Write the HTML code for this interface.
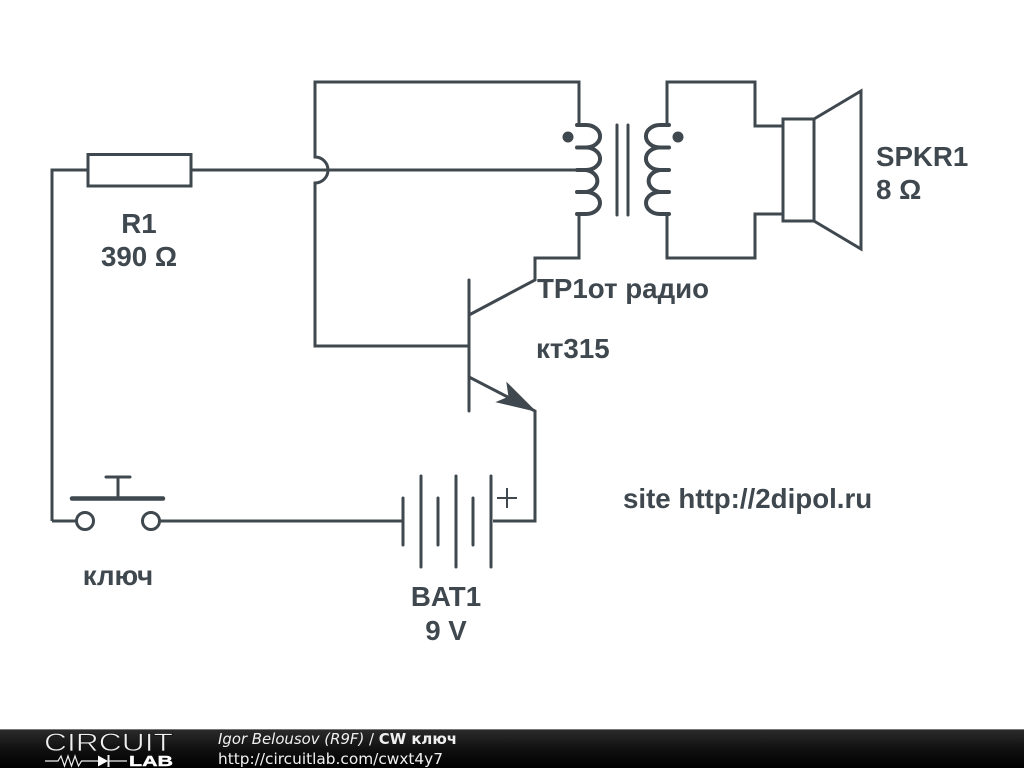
<!DOCTYPE html>
<html>
<head>
<meta charset="utf-8">
<style>
html,body{margin:0;padding:0;background:#fff;width:1024px;height:768px;overflow:hidden}
svg{display:block;filter:blur(0.35px)}
</style>
</head>
<body>
<svg width="1024" height="768" viewBox="0 0 1024 768" xmlns="http://www.w3.org/2000/svg">
<defs>
<linearGradient id="bar" x1="0" y1="0" x2="0" y2="1">
<stop offset="0" stop-color="#2c2c2c"/><stop offset="0.5" stop-color="#111"/><stop offset="1" stop-color="#000"/>
</linearGradient>
</defs>
<rect width="1024" height="768" fill="#fff"/>
<g fill="none" stroke="#3f484e" stroke-width="3" stroke-linejoin="miter">
<!-- primary loop -->
<path d="M579 125V82H315V157A13 13 0 0 1 315 183V346H469"/>
<path d="M52 521V170H88M191 170H579"/>
<rect x="88" y="154.500" width="103" height="31.500"/>
<!-- collector/emitter -->
<path d="M469 315L535 280V258H579V214"/>
<path d="M469 377L535 411V521H493"/>
<path d="M469 280V411" stroke-linecap="round"/>
<!-- coils -->
<g stroke-width="4" stroke-linecap="round">
<path d="M577 125H586A14 11.200 0 0 1 586 147.500H577M586 147.500A14 11.200 0 0 1 586 170H577M586 170A14 11.200 0 0 1 586 192H577M586 192A14 11 0 0 1 586 214H577"/>
<path d="M669 125H660A14 11.200 0 0 0 660 147.500H669M660 147.500A14 11.200 0 0 0 660 170H669M660 170A14 11.200 0 0 0 660 192H669M660 192A14 11 0 0 0 660 214H669"/>
</g>
<path d="M617 125V215M628 125V215" stroke-linecap="round"/>
<!-- secondary -->
<path d="M667 125V82H755V126H783M667 214V258H755V214H783"/>
<!-- speaker -->
<rect x="783" y="119" width="31" height="102"/>
<path d="M814 119L861 91V249L814 221"/>
<!-- switch -->
<circle cx="85" cy="521" r="8.500"/>
<circle cx="151" cy="521" r="8.500"/>
<path d="M52 521H76.500M159.500 521H403"/>
<path d="M72 498.500H163" stroke-width="4.500" stroke-linecap="round"/>
<path d="M118 477V498M106 477H130" stroke-linecap="round"/>
<!-- battery -->
<g stroke-linecap="round">
<path d="M403 498V545M421 476V567M438 498V545M456 476V567M473 498V545M491 476V567"/>
</g>
<path d="M497 498H517M507 488V508" stroke-width="2"/>
</g>
<circle cx="568" cy="137" r="5.500" fill="#3f484e"/>
<circle cx="678" cy="137" r="5.500" fill="#3f484e"/>
<path d="M535 411L507 383L509 397L497 402Z" fill="#3f484e" stroke="#3f484e" stroke-width="1"/>
<g font-family="'Liberation Sans',Arial,sans-serif" font-weight="bold" font-size="27.700" fill="#3f484e">
<text x="139" y="233" text-anchor="middle">R1</text>
<text x="139" y="266" text-anchor="middle">390 Ω</text>
<text x="876" y="166">SPKR1</text>
<text x="876" y="199">8 Ω</text>
<text x="537" y="298">TP1от радио</text>
<text x="536" y="358">кт315</text>
<text x="623" y="508">site http://2dipol.ru</text>
<text x="118" y="585" text-anchor="middle">ключ</text>
<text x="446" y="606" text-anchor="middle">BAT1</text>
<text x="446" y="640" text-anchor="middle">9 V</text>
</g>
<!-- footer -->
<rect x="0" y="729" width="1024" height="39" fill="url(#bar)"/>
<rect x="0" y="729" width="1024" height="1" fill="#777"/>
<text x="44" y="751" font-family="'Liberation Sans',Arial,sans-serif" font-size="25" fill="#f0f0f0" stroke="#161616" stroke-width="0.700" textLength="129" lengthAdjust="spacingAndGlyphs">CIRCUIT</text>
<g fill="none" stroke="#eee" stroke-width="1.200">
<path d="M45 761H58L61 756L64.500 766L68 756L71.500 766L75 756L78.500 766L81.500 761H98M109 761H127"/>
<path d="M108.500 755V767" stroke-width="2"/>
</g>
<path d="M98 755.500L108 761L98 766.500Z" fill="#fff"/>
<text x="129" y="766" font-family="'Liberation Sans',Arial,sans-serif" font-weight="bold" font-size="14.500" fill="#fff" stroke="#fff" stroke-width="0.400" textLength="44" lengthAdjust="spacingAndGlyphs">LAB</text>
<text x="218" y="744" font-family="'DejaVu Sans',sans-serif" font-size="14.900" fill="#f0f0f0"><tspan font-style="italic">Igor Belousov (R9F)</tspan> / <tspan font-weight="bold">CW ключ</tspan></text>
<text x="218" y="764" font-family="'DejaVu Sans',sans-serif" font-size="15.350" fill="#f0f0f0">http://circuitlab.com/cwxt4y7</text>
</svg>
</body>
</html>
